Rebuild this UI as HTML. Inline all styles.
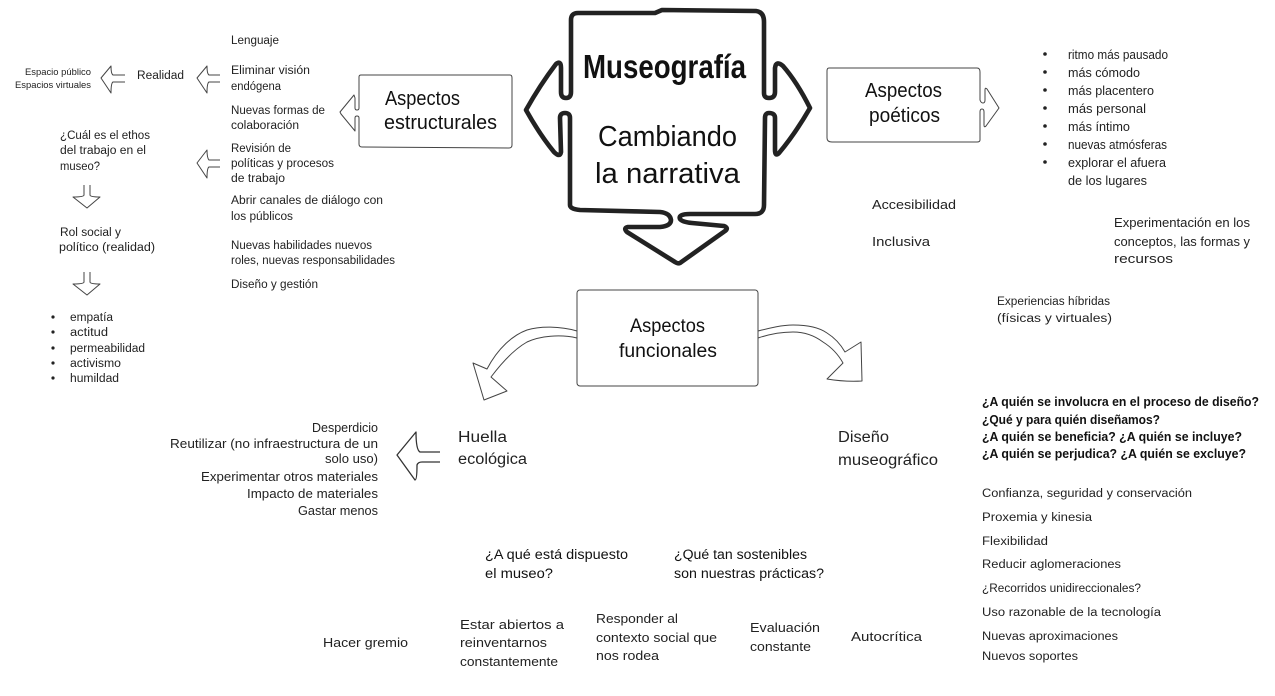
<!DOCTYPE html>
<html lang="es"><head><meta charset="utf-8"><title>Museografía</title>
<style>
html,body{margin:0;padding:0;background:#fff}
svg{display:block;filter:blur(.35px)}
text{font-family:"Liberation Sans",sans-serif;fill:#222;font-size:11.5px}
.s{font-size:9.5px}.m{font-size:12.5px}.b{font-size:12.5px;fill:#111;font-weight:bold}
.q{font-size:13.5px;fill:#111}
.l{font-size:15.5px}.h{font-size:20px;fill:#111}.t{font-size:29px;fill:#111}
.o{fill:#fff;stroke:#444;stroke-width:1;stroke-linejoin:round}
.k{fill:#fff;stroke:#333;stroke-width:1.3;stroke-linejoin:round}
</style></head><body>
<svg width="1275" height="696" viewBox="0 0 1275 696" xmlns="http://www.w3.org/2000/svg">
<!-- main shape -->
<path d="M571 20Q571 13 578 13L655 13L662 10L756 11Q764 12 764 22L764 93Q764 98 769 98Q775 98 775 92L775 68Q776 60 783 66Q797 82 810 108Q795 134 779 153Q775 157 775 150L775 118Q775 113 769 113Q765 113 765 118L764 205Q764 214 755 214L690 214Q678 214 680 219Q682 222 692 223L724 226Q729 228 725 231L680 263Q678 264 675 262L627 232Q623 228 628 227L660 227Q671 226 671 220Q670 213 660 212L580 210Q570 209 570 205L570 118Q570 113 565 113Q560 113 560 118L561 152Q560 158 554 152Q540 135 526 110Q540 85 556 64Q561 60 561 68L561 92Q561 98 566 98Q571 98 571 92Z" fill="#fff" stroke="#222" stroke-width="4.6" stroke-linejoin="round"/>
<text lengthAdjust="spacingAndGlyphs" x="583" y="78" textLength="163" style="font-size:33px;font-weight:bold;fill:#111">Museografía</text>
<text lengthAdjust="spacingAndGlyphs" class="t" x="598" y="146" textLength="139">Cambiando</text>
<text lengthAdjust="spacingAndGlyphs" class="t" x="595" y="183" textLength="145">la narrativa</text>

<!-- Aspectos estructurales -->
<path class="o" d="M361 75L510 75Q512 75 512 78L512 145Q512 148 509 148L362 147Q359 147 359 144L359 118Q359 116 357 116Q355 116 355 118L355 131L341 114L340 112L354 95L355 98L355 108Q355 110 357 110Q359 110 359 108L359 77Q359 75 361 75Z"/>
<text lengthAdjust="spacingAndGlyphs" class="h" x="385" y="105" textLength="75">Aspectos</text>
<text lengthAdjust="spacingAndGlyphs" class="h" x="384" y="129" textLength="113">estructurales</text>

<!-- Aspectos poeticos -->
<path class="o" d="M829 68L977 68Q980 68 980 72L980 100Q981 103 983 103Q985 103 985 100L985 90Q985 87 987 89L999 108L986 126Q984 128 984 125L984 112Q984 109 982 109Q980 109 980 112L980 140Q980 142 977 142L832 142Q827 142 827 138L827 71Q827 68 829 68Z"/>
<text lengthAdjust="spacingAndGlyphs" class="h" x="865" y="97" textLength="77">Aspectos</text>
<text lengthAdjust="spacingAndGlyphs" class="h" x="869" y="122" textLength="71">poéticos</text>

<!-- Aspectos funcionales -->
<path class="o" d="M577 331C560 326 540 326 527 330C513 335 498 348 487 369L473 363L484 400L507 391L491 377C500 365 513 350 527 342C540 336 560 334 577 338"/>
<path class="o" d="M758 331C770 328 782 325 793 325C808 325 820 328 827 333C835 338 841 345 845 352L861 342L862 381Q845 382 827 379L843 363C838 354 831 347 823 342C815 336 805 332 793 332C782 332 770 334 758 338"/>
<rect class="o" x="577" y="290" width="181" height="96" rx="3"/>
<text lengthAdjust="spacingAndGlyphs" class="h" x="630" y="332" textLength="75" style="font-size:19px">Aspectos</text>
<text lengthAdjust="spacingAndGlyphs" class="h" x="619" y="357" textLength="98" style="font-size:19px">funcionales</text>

<!-- small arrows -->
<path class="o" d="M220 75L209 75Q207 74 207 66L197 78L207 93Q207 83 209 82L220 82"/>
<path class="o" d="M125 75L113 75Q111 74 111 66L101 78L111 93Q111 83 113 82L125 82"/>
<path class="o" d="M220 160L209 160Q207 158 207 150L197 163L207 178Q207 168 209 167L220 167"/>
<path class="o" d="M84 185L84 195Q84 197 73 197L87 208L100 197Q90 197 90 195L90 185"/>
<path class="o" d="M84 272L84 282Q84 284 73 284L87 295L100 284Q90 284 90 282L90 272"/>
<path class="k" d="M440 452L420 452Q416 450 416 432L397 455L415 480Q417 480 417 465Q418 462 422 462L440 462"/>

<!-- structural list -->
<text lengthAdjust="spacingAndGlyphs" x="231" y="44" textLength="48">Lenguaje</text>
<text lengthAdjust="spacingAndGlyphs" x="231" y="74" textLength="79">Eliminar visión</text>
<text lengthAdjust="spacingAndGlyphs" x="231" y="90" textLength="50">endógena</text>
<text lengthAdjust="spacingAndGlyphs" x="231" y="114" textLength="94">Nuevas formas de</text>
<text lengthAdjust="spacingAndGlyphs" x="231" y="129" textLength="68">colaboración</text>
<text lengthAdjust="spacingAndGlyphs" x="231" y="152" textLength="60">Revisión de</text>
<text lengthAdjust="spacingAndGlyphs" x="231" y="167" textLength="103">políticas y procesos</text>
<text lengthAdjust="spacingAndGlyphs" x="231" y="182" textLength="54">de trabajo</text>
<text lengthAdjust="spacingAndGlyphs" x="231" y="204" textLength="152">Abrir canales de diálogo con</text>
<text lengthAdjust="spacingAndGlyphs" x="231" y="220" textLength="62">los públicos</text>
<text lengthAdjust="spacingAndGlyphs" x="231" y="249" textLength="141">Nuevas habilidades nuevos</text>
<text lengthAdjust="spacingAndGlyphs" x="231" y="264" textLength="164">roles, nuevas responsabilidades</text>
<text lengthAdjust="spacingAndGlyphs" x="231" y="288" textLength="87">Diseño y gestión</text>
<text lengthAdjust="spacingAndGlyphs" x="137" y="79" textLength="47">Realidad</text>
<text lengthAdjust="spacingAndGlyphs" class="s" x="25" y="75" textLength="66">Espacio público</text>
<text lengthAdjust="spacingAndGlyphs" class="s" x="15" y="88" textLength="76">Espacios virtuales</text>
<text lengthAdjust="spacingAndGlyphs" x="60" y="139" textLength="90">¿Cuál es el ethos</text>
<text lengthAdjust="spacingAndGlyphs" x="60" y="154" textLength="86">del trabajo en el</text>
<text lengthAdjust="spacingAndGlyphs" x="60" y="170" textLength="40">museo?</text>
<text lengthAdjust="spacingAndGlyphs" x="60" y="236" textLength="61">Rol social y</text>
<text lengthAdjust="spacingAndGlyphs" x="59" y="251" textLength="96">político (realidad)</text>
<g fill="#222"><circle cx="53" cy="317" r="1.6"/><circle cx="53" cy="332" r="1.6"/><circle cx="53" cy="348" r="1.6"/><circle cx="53" cy="363" r="1.6"/><circle cx="53" cy="378" r="1.6"/></g>
<text lengthAdjust="spacingAndGlyphs" x="70" y="321" textLength="43">empatía</text>
<text lengthAdjust="spacingAndGlyphs" x="70" y="336" textLength="38">actitud</text>
<text lengthAdjust="spacingAndGlyphs" x="70" y="352" textLength="75">permeabilidad</text>
<text lengthAdjust="spacingAndGlyphs" x="70" y="367" textLength="51">activismo</text>
<text lengthAdjust="spacingAndGlyphs" x="70" y="382" textLength="49">humildad</text>

<!-- poetic list -->
<g fill="#222"><circle cx="1045" cy="54" r="1.8"/><circle cx="1045" cy="72" r="1.8"/><circle cx="1045" cy="90" r="1.8"/><circle cx="1045" cy="108" r="1.8"/><circle cx="1045" cy="126" r="1.8"/><circle cx="1045" cy="144" r="1.8"/><circle cx="1045" cy="162" r="1.8"/></g>
<text lengthAdjust="spacingAndGlyphs" class="m" x="1068" y="59" textLength="100">ritmo más pausado</text>
<text lengthAdjust="spacingAndGlyphs" class="m" x="1068" y="77" textLength="72">más cómodo</text>
<text lengthAdjust="spacingAndGlyphs" class="m" x="1068" y="95" textLength="86">más placentero</text>
<text lengthAdjust="spacingAndGlyphs" class="m" x="1068" y="113" textLength="78">más personal</text>
<text lengthAdjust="spacingAndGlyphs" class="m" x="1068" y="131" textLength="62">más íntimo</text>
<text lengthAdjust="spacingAndGlyphs" class="m" x="1068" y="149" textLength="99">nuevas atmósferas</text>
<text lengthAdjust="spacingAndGlyphs" class="m" x="1068" y="167" textLength="98">explorar el afuera</text>
<text lengthAdjust="spacingAndGlyphs" class="m" x="1068" y="185" textLength="79">de los lugares</text>
<text lengthAdjust="spacingAndGlyphs" class="m" x="872" y="209" textLength="84">Accesibilidad</text>
<text lengthAdjust="spacingAndGlyphs" class="m" x="872" y="246" textLength="58">Inclusiva</text>
<text lengthAdjust="spacingAndGlyphs" class="m" x="1114" y="227" textLength="136">Experimentación en los</text>
<text lengthAdjust="spacingAndGlyphs" class="m" x="1114" y="246" textLength="136">conceptos, las formas y</text>
<text lengthAdjust="spacingAndGlyphs" class="m" x="1114" y="263" textLength="59">recursos</text>
<text lengthAdjust="spacingAndGlyphs" x="997" y="305" textLength="113">Experiencias híbridas</text>
<text lengthAdjust="spacingAndGlyphs" x="997" y="322" textLength="115">(físicas y virtuales)</text>

<!-- design -->
<text lengthAdjust="spacingAndGlyphs" class="b" x="982" y="406" textLength="277">¿A quién se involucra en el proceso de diseño?</text>
<text lengthAdjust="spacingAndGlyphs" class="b" x="982" y="424" textLength="178">¿Qué y para quién diseñamos?</text>
<text lengthAdjust="spacingAndGlyphs" class="b" x="982" y="441" textLength="260">¿A quién se beneficia? ¿A quién se incluye?</text>
<text lengthAdjust="spacingAndGlyphs" class="b" x="982" y="458" textLength="264">¿A quién se perjudica? ¿A quién se excluye?</text>
<text lengthAdjust="spacingAndGlyphs" x="982" y="497" textLength="210">Confianza, seguridad y conservación</text>
<text lengthAdjust="spacingAndGlyphs" x="982" y="521" textLength="110">Proxemia y kinesia</text>
<text lengthAdjust="spacingAndGlyphs" x="982" y="545" textLength="66">Flexibilidad</text>
<text lengthAdjust="spacingAndGlyphs" x="982" y="568" textLength="139">Reducir aglomeraciones</text>
<text lengthAdjust="spacingAndGlyphs" x="982" y="592" textLength="159">¿Recorridos unidireccionales?</text>
<text lengthAdjust="spacingAndGlyphs" x="982" y="616" textLength="179">Uso razonable de la tecnología</text>
<text lengthAdjust="spacingAndGlyphs" x="982" y="640" textLength="136">Nuevas aproximaciones</text>
<text lengthAdjust="spacingAndGlyphs" x="982" y="660" textLength="96">Nuevos soportes</text>
<text lengthAdjust="spacingAndGlyphs" class="l" x="838" y="442" textLength="51">Diseño</text>
<text lengthAdjust="spacingAndGlyphs" class="l" x="838" y="465" textLength="100">museográfico</text>

<!-- huella -->
<text lengthAdjust="spacingAndGlyphs" class="l" x="458" y="442" textLength="49">Huella</text>
<text lengthAdjust="spacingAndGlyphs" class="l" x="458" y="464" textLength="69">ecológica</text>
<text lengthAdjust="spacingAndGlyphs" class="m" x="312" y="432" textLength="66">Desperdicio</text>
<text lengthAdjust="spacingAndGlyphs" class="m" x="170" y="448" textLength="208">Reutilizar (no infraestructura de un</text>
<text lengthAdjust="spacingAndGlyphs" class="m" x="325" y="463" textLength="53">solo uso)</text>
<text lengthAdjust="spacingAndGlyphs" class="m" x="201" y="481" textLength="177">Experimentar otros materiales</text>
<text lengthAdjust="spacingAndGlyphs" class="m" x="247" y="498" textLength="131">Impacto de materiales</text>
<text lengthAdjust="spacingAndGlyphs" class="m" x="298" y="515" textLength="80">Gastar menos</text>

<!-- bottom -->
<text lengthAdjust="spacingAndGlyphs" class="q" x="485" y="559" textLength="143">¿A qué está dispuesto</text>
<text lengthAdjust="spacingAndGlyphs" class="q" x="485" y="578" textLength="68">el museo?</text>
<text lengthAdjust="spacingAndGlyphs" class="q" x="674" y="559" textLength="133">¿Qué tan sostenibles</text>
<text lengthAdjust="spacingAndGlyphs" class="q" x="674" y="578" textLength="150">son nuestras prácticas?</text>
<text lengthAdjust="spacingAndGlyphs" class="m" x="323" y="647" textLength="85">Hacer gremio</text>
<text lengthAdjust="spacingAndGlyphs" class="m" x="460" y="629" textLength="104">Estar abiertos a</text>
<text lengthAdjust="spacingAndGlyphs" class="m" x="460" y="647" textLength="87">reinventarnos</text>
<text lengthAdjust="spacingAndGlyphs" class="m" x="460" y="666" textLength="98">constantemente</text>
<text lengthAdjust="spacingAndGlyphs" class="m" x="596" y="623" textLength="82">Responder al</text>
<text lengthAdjust="spacingAndGlyphs" class="m" x="596" y="642" textLength="121">contexto social que</text>
<text lengthAdjust="spacingAndGlyphs" class="m" x="596" y="660" textLength="63">nos rodea</text>
<text lengthAdjust="spacingAndGlyphs" class="m" x="750" y="632" textLength="70">Evaluación</text>
<text lengthAdjust="spacingAndGlyphs" class="m" x="750" y="651" textLength="61">constante</text>
<text lengthAdjust="spacingAndGlyphs" class="m" x="851" y="641" textLength="71">Autocrítica</text>
</svg>
</body></html>
